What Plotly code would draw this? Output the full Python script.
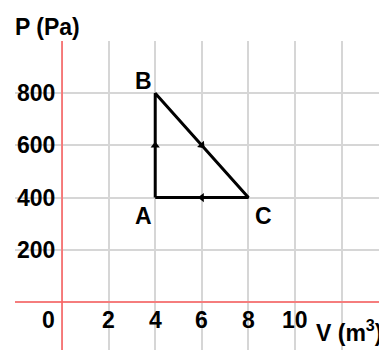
import plotly.graph_objects as go

# cycle A -> B -> C -> A
cycle_v = [4, 4, 8, 4]
cycle_p = [400, 800, 400, 400]
point_names = ["A", "B", "C"]
point_v = [4, 4, 8]
point_p = [400, 800, 400]

# direction arrows at mid points of each leg
arrow_v = [4, 6, 6]
arrow_p = [600, 600, 400]
arrow_angle = [0, 138, -90]

x_ticks = [2, 4, 6, 8, 10]
y_ticks = [200, 400, 600, 800]

font = dict(family="Liberation Sans, Arial", size=23, color="black")

fig = go.Figure()

# red axes through the origin
fig.add_trace(go.Scatter(x=[0, 0], y=[-300, 1100], mode="lines",
                         line=dict(color="#ff5f5f", width=1.5), hoverinfo="skip"))
fig.add_trace(go.Scatter(x=[-3, 15], y=[0, 0], mode="lines",
                         line=dict(color="#ff5f5f", width=1.5), hoverinfo="skip"))

fig.add_trace(go.Scatter(x=cycle_v, y=cycle_p, mode="lines",
                         line=dict(color="black", width=3)))
fig.add_trace(go.Scatter(x=arrow_v, y=arrow_p, mode="markers",
                         marker=dict(symbol="triangle-up", size=8, color="black",
                                     angle=arrow_angle)))

annotations = []
label_shift = {"A": (-0.5, -70), "B": (-0.5, 45), "C": (0.65, -70)}
for name, v, p in zip(point_names, point_v, point_p):
    dx, dy = label_shift[name]
    annotations.append(dict(x=v + dx, y=p + dy, text="<b>%s</b>" % name,
                            showarrow=False, font=font))
for t in x_ticks:
    annotations.append(dict(x=t, y=-70, text="<b>%d</b>" % t, showarrow=False, font=font))
annotations.append(dict(x=-0.6, y=-70, text="<b>0</b>", showarrow=False, font=font))
for t in y_ticks:
    annotations.append(dict(x=-1.1, y=t, text="<b>%d</b>" % t, showarrow=False, font=font))
annotations.append(dict(x=13.8, y=-110, xanchor="right", text="<b>V (m<sup>3</sup>)</b>",
                        showarrow=False, font=font))
annotations.append(dict(x=0, y=1.0, xref="paper", yref="paper",
                        xanchor="left", yanchor="bottom", xshift=-2, yshift=-1,
                        text="<b>P (Pa)</b>", showarrow=False, font=font))

# page body has an 8px margin, so the figure is 8px smaller on each side
fig.update_layout(
    width=379, height=342,
    margin=dict(l=7, r=0, t=33, b=0),
    paper_bgcolor="white", plot_bgcolor="white",
    showlegend=False,
    annotations=annotations,
    xaxis=dict(range=[-2.02, 13.95], tickvals=[-2, 0, 2, 4, 6, 8, 10, 12],
               showticklabels=False, showgrid=True, gridcolor="#d6d6d6", gridwidth=1.5,
               zeroline=False, fixedrange=True),
    yaxis=dict(range=[-184, 1000], tickvals=[0, 200, 400, 600, 800, 1000],
               showticklabels=False, showgrid=True, gridcolor="#d6d6d6", gridwidth=1.5,
               zeroline=False, fixedrange=True),
)

fig.write_html("out.html")
